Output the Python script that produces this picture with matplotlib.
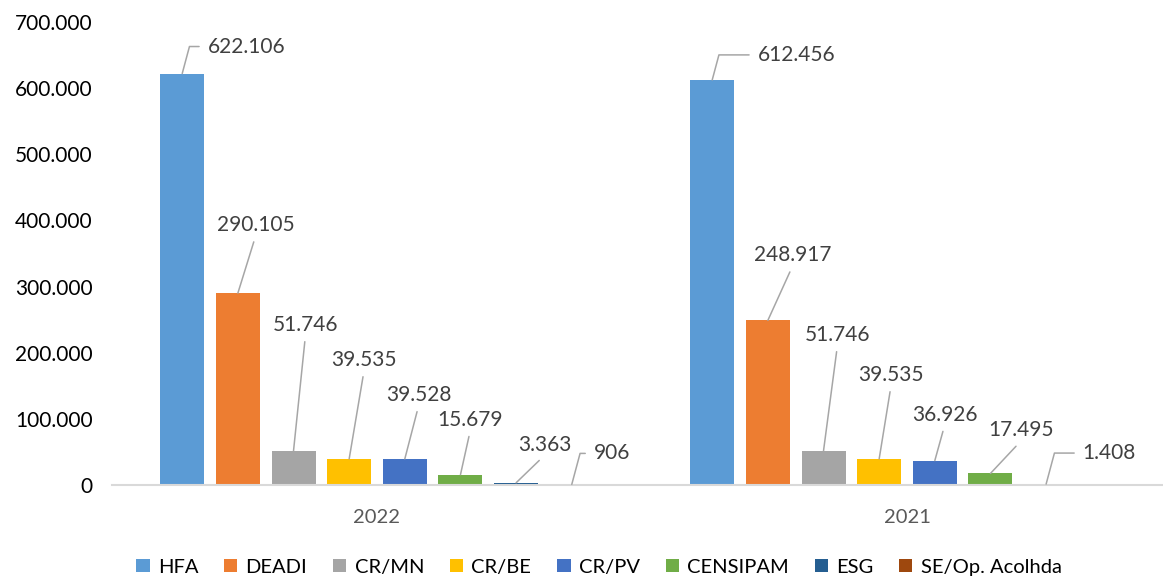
import matplotlib.pyplot as plt
import numpy as np
from matplotlib.ticker import FuncFormatter

# dados
anos = ["2022", "2021"]
series = ["HFA", "DEADI", "CR/MN", "CR/BE", "CR/PV", "CENSIPAM", "ESG", "SE/Op. Acolhda"]
hfa = [622106, 612456]
deadi = [290105, 248917]
cr_mn = [51746, 51746]
cr_be = [39535, 39535]
cr_pv = [39528, 36926]
censipam = [15679, 17495]
esg = [3363, 1408]
se_op = [906, np.nan]
valores = [hfa, deadi, cr_mn, cr_be, cr_pv, censipam, esg, se_op]

cores = ["#5b9bd5", "#ed7d31", "#a5a5a5", "#ffc000", "#4472c4", "#70ad47", "#255e91", "#9e480e"]

# deslocamento dos rotulos (pixels) e se a linha tem cotovelo
desloc = [
    [(64, 27, True), (84, 25, True)],
    [(18, 68, False), (25, 65, False)],
    [(12, 126, False), (14, 116, False)],
    [(15, 99, False), (12, 84, False)],
    [(14, 64, False), (10, 46, False)],
    [(10, 55, False), (31, 43, False)],
    [(29, 38, False), (63, 31, True)],
    [(40, 31, True), None],
]


def fmt(v):
    return f"{v:,.0f}".replace(",", ".")


def main():
    plt.rcParams['font.family'] = ['Lato', 'DejaVu Sans']
    fig = plt.figure(figsize=(11.63, 5.81), dpi=100)
    ax = fig.add_axes([112 / 1163, 96 / 581, 1 - 112 / 1163, (485 - 22) / 581])

    x = np.arange(len(anos))
    passo = 0.105
    largura = 0.083
    n = len(series)
    for i, (nome, vals, cor) in enumerate(zip(series, valores, cores)):
        pos = x + (i - (n - 1) / 2) * passo
        ax.bar(pos, vals, width=largura, color=cor, label=nome)
        for j, (p, v) in enumerate(zip(pos, vals)):
            if np.isnan(v) or desloc[i][j] is None:
                continue
            dx, dy, cotovelo = desloc[i][j]
            if cotovelo:
                props = dict(arrowstyle='-', color='#a6a6a6', lw=1.1, shrinkA=4, shrinkB=0,
                             relpos=(0, 0.5), connectionstyle="angle,angleA=0,angleB=75,rad=0")
            else:
                props = dict(arrowstyle='-', color='#a6a6a6', lw=1.1, shrinkA=3, shrinkB=0,
                             relpos=(0.5, 0))
            ax.annotate(fmt(v), xy=(p, v), xytext=(dx, dy), textcoords='offset pixels',
                        ha='center', va='center', fontsize=15, color='#404040',
                        arrowprops=props)

    ax.set_ylim(0, 700000)
    ax.set_xlim(-0.5, 1.5 - 9 / 530)
    ax.set_yticks(np.arange(0, 700001, 100000))
    ax.yaxis.set_major_formatter(FuncFormatter(lambda v, _: fmt(v)))
    ax.set_xticks(x)
    ax.set_xticklabels(anos)
    ax.tick_params(axis='y', length=0, labelsize=15, labelcolor='#000000', pad=14)
    ax.tick_params(axis='x', length=0, labelsize=14.5, labelcolor='#595959', pad=17)
    for s in ['top', 'right', 'left']:
        ax.spines[s].set_visible(False)
    ax.spines['bottom'].set_color('#d9d9d9')
    ax.spines['bottom'].set_linewidth(1.5)

    fig.legend(loc='lower center', bbox_to_anchor=(0.515, -0.022), ncol=8, frameon=False,
               fontsize=14.5, handlelength=0.65, handleheight=0.65, handletextpad=0.4,
               columnspacing=1.3)

    fig.savefig("out.png", dpi=100)


if __name__ == '__main__':
    main()
